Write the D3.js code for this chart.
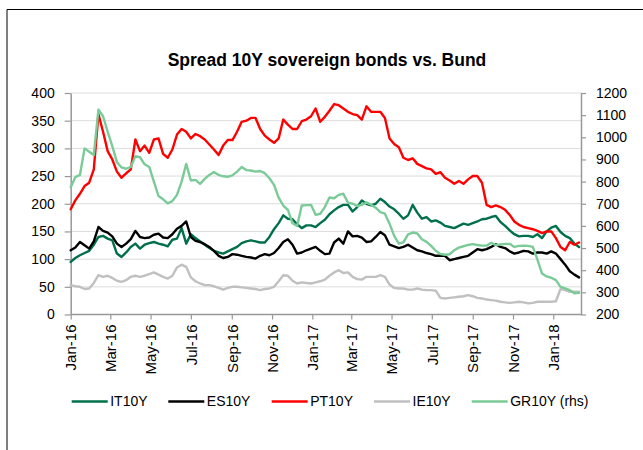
<!DOCTYPE html>
<html>
<head>
<meta charset="utf-8">
<script src="https://cdn.jsdelivr.net/npm/d3@7/dist/d3.min.js"></script>
<style>
  html, body { margin: 0; padding: 0; background: #fff; }
  svg { display: block; font-family: "Liberation Sans", Arial, sans-serif; }
</style>
</head>
<body>
<svg id="chart" width="643" height="450"></svg>
<script>
const dates = [
"2016-01-01","2016-01-08","2016-01-15","2016-01-22","2016-01-29","2016-02-05","2016-02-12","2016-02-19","2016-02-26",
"2016-03-04","2016-03-11","2016-03-18","2016-03-25","2016-04-01","2016-04-08","2016-04-15","2016-04-22","2016-04-29",
"2016-05-06","2016-05-13","2016-05-20","2016-05-27","2016-06-03","2016-06-10","2016-06-17","2016-06-24","2016-07-01",
"2016-07-08","2016-07-15","2016-07-22","2016-07-29","2016-08-05","2016-08-12","2016-08-19","2016-08-26","2016-09-02",
"2016-09-09","2016-09-16","2016-09-23","2016-09-30","2016-10-07","2016-10-14","2016-10-21","2016-10-28","2016-11-04",
"2016-11-11","2016-11-18","2016-11-25","2016-12-02","2016-12-09","2016-12-16","2016-12-23","2016-12-30","2017-01-06",
"2017-01-13","2017-01-20","2017-01-27","2017-02-03","2017-02-10","2017-02-17","2017-02-24","2017-03-03","2017-03-10",
"2017-03-17","2017-03-24","2017-03-31","2017-04-07","2017-04-14","2017-04-21","2017-04-28","2017-05-05","2017-05-12",
"2017-05-19","2017-05-26","2017-06-02","2017-06-09","2017-06-16","2017-06-23","2017-06-30","2017-07-07","2017-07-14",
"2017-07-21","2017-07-28","2017-08-04","2017-08-11","2017-08-18","2017-08-25","2017-09-01","2017-09-08","2017-09-15",
"2017-09-22","2017-09-29","2017-10-06","2017-10-13","2017-10-20","2017-10-27","2017-11-03","2017-11-10","2017-11-17",
"2017-11-24","2017-12-01","2017-12-08","2017-12-15","2017-12-22","2017-12-29","2018-01-05","2018-01-12","2018-01-19",
"2018-01-26","2018-02-02","2018-02-09"
];

const IT10Y = [95,102,107,111,115,126,140,142,137,134,110,104,112,122,128,119,126,129,131,128,126,123,135,137,156,128,145,
138,132,126,120,115,112,110,114,118,122,129,132,134,132,130,130,140,154,165,179,173,172,163,156,161,161,158,165,171,181,
188,194,198,198,186,194,206,200,197,200,209,203,195,190,182,173,179,198,184,173,176,168,170,166,160,158,156,160,164,162,
165,168,172,173,176,178,167,160,152,145,141,142,142,140,145,138,150,157,160,149,142,138,128,122];

const ES10Y = [116,121,131,125,119,132,158,151,148,141,128,122,128,136,151,140,138,139,144,146,139,138,145,155,160,168,140,
133,131,127,122,115,106,102,104,109,108,106,104,103,101,106,109,107,111,120,131,136,126,110,112,116,119,122,115,109,110,
130,137,128,150,141,142,139,131,132,140,149,143,126,123,120,122,126,121,116,114,111,109,106,106,106,98,100,102,104,106,
112,118,116,118,122,127,122,120,114,110,112,115,114,110,112,112,110,114,110,100,90,78,72,67];

const PT10Y = [190,206,218,232,238,262,362,330,295,280,258,247,255,262,316,295,305,292,316,318,290,283,298,325,335,330,318,
326,322,316,307,298,288,305,315,315,330,348,350,355,355,335,323,316,310,318,352,343,335,335,349,352,358,372,348,357,368,
380,378,372,366,362,360,352,376,366,366,366,355,318,308,302,283,279,282,272,268,264,262,254,257,247,242,236,241,236,244,
250,250,238,198,194,197,194,189,180,168,162,158,156,154,151,147,150,150,138,122,116,131,126,130];

const IE10Y = [53,51,50,46,47,57,71,68,70,66,61,59,62,68,70,68,70,73,76,72,68,65,70,85,90,86,67,60,56,53,53,51,48,45,48,50,
50,49,48,47,46,44,46,47,50,60,71,70,61,56,58,57,56,58,60,63,70,76,80,75,76,68,64,63,68,68,68,71,68,54,48,47,47,45,45,47,45,
44,44,43,30,29,30,31,32,33,35,33,30,29,27,26,25,23,22,21,22,23,22,20,21,23,23,23,23,24,46,44,41,41,41];

// GR10Y is plotted on the right-hand axis
const GR10Y = [775,820,830,950,935,920,1125,1095,1025,960,888,864,858,866,915,910,878,866,800,735,720,702,712,740,800,880,
805,808,790,812,830,843,830,824,822,828,845,866,852,850,845,848,838,815,785,728,692,672,612,600,692,694,695,650,655,685,
728,725,740,745,705,700,690,695,706,696,682,662,655,610,555,520,526,562,570,566,540,528,510,488,473,470,472,490,502,508,
514,518,514,511,511,524,513,516,519,519,505,510,511,510,505,448,385,372,366,355,325,318,310,296,298];

const leftTicks  = [0, 50, 100, 150, 200, 250, 300, 350, 400];
const rightTicks = [200, 300, 400, 500, 600, 700, 800, 900, 1000, 1100, 1200];
const titleText = "Spread 10Y sovereign bonds vs. Bund";

const seriesNames  = ["IT10Y", "ES10Y", "PT10Y", "IE10Y", "GR10Y"];
const legendLabels = ["IT10Y", "ES10Y", "PT10Y", "IE10Y", "GR10Y (rhs)"];
const seriesValues = [IT10Y, ES10Y, PT10Y, IE10Y, GR10Y];
const seriesAxis   = ["left", "left", "left", "left", "right"];
const colors = ["#00704a", "#000000", "#ff0000", "#c0c0c0", "#7acb98"];

// ---- Layout ----
const svg = d3.select("#chart");
const parse = d3.utcParse("%Y-%m-%d");
const dateObjs = dates.map(parse);

const plot = { left: 70.7, right: 581, top: 93, bottom: 314.5 };

const x = d3.scaleUtc()
  .domain([parse("2016-01-01"), parse("2018-02-12")])
  .range([plot.left, plot.right]);
const yL = d3.scaleLinear().domain([0, 400]).range([plot.bottom, plot.top]);
const yR = d3.scaleLinear().domain([200, 1200]).range([plot.bottom, plot.top]);

// frame
svg.append("line").attr("x1", 7).attr("x2", 643).attr("y1", 9.5).attr("y2", 9.5)
  .attr("stroke", "#000").attr("stroke-width", 1);
svg.append("line").attr("x1", 7).attr("x2", 7).attr("y1", 9.5).attr("y2", 450)
  .attr("stroke", "#000").attr("stroke-width", 1);

// title
svg.append("text").attr("x", 327).attr("y", 66).attr("text-anchor", "middle")
  .attr("font-size", 17.5).attr("font-weight", "bold").attr("fill", "#000")
  .text(titleText);

// gridlines
svg.append("g").selectAll("line").data(leftTicks.filter(d => d > 0)).join("line")
  .attr("x1", plot.left).attr("x2", plot.right)
  .attr("y1", d => yL(d)).attr("y2", d => yL(d))
  .attr("stroke", "#dcdcdc").attr("stroke-width", 1);

const axisColor = "#989898";

// left axis
const gL = svg.append("g").attr("transform", `translate(${plot.left},0)`)
  .call(d3.axisLeft(yL).tickValues(leftTicks).tickFormat(d3.format("d"))
    .tickSize(6).tickPadding(10).tickSizeOuter(0));
// right axis
const gR = svg.append("g").attr("transform", `translate(${plot.right},0)`)
  .call(d3.axisRight(yR).tickValues(rightTicks).tickFormat(d3.format("d"))
    .tickSize(5).tickPadding(10).tickSizeOuter(0));
// bottom axis
const gB = svg.append("g").attr("transform", `translate(0,${plot.bottom})`)
  .call(d3.axisBottom(x).ticks(d3.utcMonth.every(2)).tickFormat(d3.utcFormat("%b-%y"))
    .tickSize(5).tickSizeOuter(0));

[gL, gR, gB].forEach(g => {
  g.select(".domain").attr("stroke", axisColor).attr("stroke-width", 1.5);
  g.selectAll(".tick line").attr("stroke", axisColor).attr("stroke-width", 1.2);
  g.selectAll("text").attr("font-size", 14).attr("fill", "#000")
    .attr("font-family", "'Liberation Sans', Arial, sans-serif");
});
gB.select(".domain").attr("d", `M${plot.left},0H${plot.right}`);
gB.selectAll("text")
  .attr("transform", "rotate(-90)")
  .attr("text-anchor", "end")
  .attr("x", -10).attr("y", 0).attr("dy", "0.35em")
  .attr("font-size", 15);

// lines
seriesValues.forEach((vals, i) => {
  const ys = seriesAxis[i] === "left" ? yL : yR;
  const line = d3.line().x((d, j) => x(dateObjs[j])).y(d => ys(d));
  svg.append("path").datum(vals)
    .attr("fill", "none").attr("stroke", colors[i]).attr("stroke-width", 2.4)
    .attr("stroke-linejoin", "round").attr("stroke-linecap", "round")
    .attr("d", line);
});

// legend
const legendX = [71.7, 168.3, 271.7, 374, 471.7];
const lg = svg.append("g");
legendLabels.forEach((lab, i) => {
  lg.append("line").attr("x1", legendX[i]).attr("x2", legendX[i] + 36)
    .attr("y1", 401.5).attr("y2", 401.5)
    .attr("stroke", colors[i]).attr("stroke-width", 2.6);
  lg.append("text").attr("x", legendX[i] + 38.5).attr("y", 401.5).attr("dy", "0.35em")
    .attr("font-size", 14).attr("fill", "#000").text(lab);
});
</script>
</body>
</html>
